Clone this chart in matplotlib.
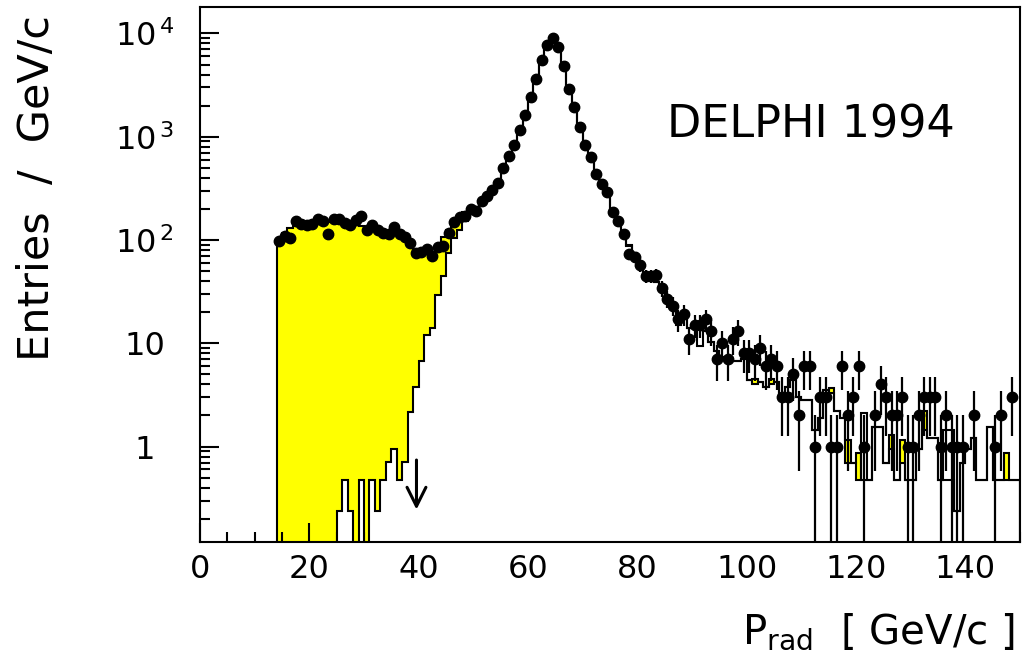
import numpy as np
import matplotlib
matplotlib.use("Agg")
from matplotlib import pyplot as plt
from matplotlib.ticker import MultipleLocator, LogLocator, NullFormatter, FuncFormatter

# 1 GeV/c bins from 14 to 150
bin_lo = 14
bin_hi = 150

# data entries per bin (bins 14..149)
data_counts = [
    98, 110, 105, 152, 142, 139, 143, 160, 152, 115,
    161, 161, 147, 141, 157, 169, 126, 140, 126, 118,
    115, 133, 115, 108, 93, 74, 76, 81, 70, 85,
    88, 118, 149, 168, 172, 200, 190, 238, 264, 308,
    356, 499, 650, 840, 1150, 1610, 2430, 3590, 5510, 7800,
    8930, 7400, 4840, 2880, 1920, 1230, 830, 630, 437, 350,
    290, 188, 153, 115, 73, 68, 57, 45, 45, 46,
    34, 27, 23, 17, 19, 11, 15, 15, 17, 13,
    7, 10, 7, 11, 13, 8, 8, 7, 9, 6,
    7, 6, 3, 3, 5, 2, 6, 6, 1, 3,
    3, 1, 1, 6, 2, 3, 6, 1, 0, 2,
    4, 3, 2, 2, 3, 1, 1, 2, 3, 3,
    3, 1, 2, 1, 1, 1, 0, 2, 0, 0,
    0, 1, 2, 0, 3, 0,
]

# total simulation (yellow)
mc_total = [
    100, 118, 130, 137, 142, 144, 146, 149, 149, 149,
    148, 146, 143, 141, 139, 136, 133, 130, 126, 122,
    118, 113, 108, 101, 93, 79, 76, 74, 73, 86,
    108, 125, 151, 170, 185, 200, 210, 235, 262, 305,
    365, 480, 640, 830, 1140, 1600, 2380, 3550, 5350, 7600,
    8700, 7450, 4900, 2930, 1900, 1250, 860, 620, 455, 352,
    280, 198, 153, 114, 89, 75, 58, 42, 40, 39,
    34, 27, 23.5, 15, 17.5, 14, 14, 9.5, 13, 10.3,
    8.4, 7.3, 6.8, 6.8, 6.8, 7.0, 4.4, 4.5, 4.25, 3.8,
    4.5, 4.25, 3.05, 3.8, 4.4, 3.05, 2.85, 2.85, 1.45, 1.9,
    3.5, 3.7, 2.2, 1.9, 1.15, 0.70, 0.87, 0.47, 0.47, 1.55,
    1.55, 0.70, 1.3, 0.47, 1.15, 0.47, 0.47, 0.95, 2.2, 1.2,
    1.2, 0.47, 0.47, 0.47, 0.24, 0.70, 0.95, 1.2, 0.47, 0.47,
    1.55, 0.47, 0.47, 0.87, 0.47, 0.47,
]

# radiative signal simulation (white)
mc_signal = [
    0, 0, 0, 0, 0, 0, 0, 0, 0, 0,
    0, 0.24, 0.47, 0.24, 0, 0.47, 0, 0.47, 0.24, 0.47,
    0.71, 0.94, 0.47, 0.71, 2.15, 3.8, 6.8, 11.9, 14, 29,
    45, 74, 104, 125, 153, 180, 195, 228, 256, 300,
    365, 480, 640, 830, 1140, 1600, 2380, 3550, 5350, 7600,
    8700, 7450, 4900, 2930, 1900, 1250, 860, 620, 455, 352,
    280, 198, 153, 114, 88, 74, 57, 42, 40, 39,
    34, 27, 23.5, 19, 17.5, 14, 14, 14.5, 13, 10.3,
    8.4, 7.3, 6.8, 6.8, 6.8, 7.0, 4.4, 4.0, 4.25, 3.8,
    4.0, 4.25, 3.05, 3.8, 4.4, 3.05, 2.85, 2.85, 1.45, 1.9,
    3.5, 3.3, 2.2, 1.9, 0.70, 0.70, 0.47, 2.1, 0.47, 1.55,
    1.55, 0.70, 0.95, 0.47, 0.70, 0.47, 0.47, 0.95, 1.45, 1.2,
    1.2, 0.47, 1.45, 1.45, 0.24, 0.70, 0.95, 1.2, 0.47, 0.47,
    1.55, 0.47, 0.47, 0.47, 0.47, 0.47,
]

cut_value = 39.6  # arrow marking the cut

edges = np.arange(bin_lo, bin_hi + 1)
centers = edges[:-1] + 0.5
data = np.array(data_counts, dtype=float)
total = np.array(mc_total)
signal = np.array(mc_signal)

plt.rcParams['font.family'] = 'DejaVu Sans'

fig = plt.figure(figsize=(10.23, 6.58), dpi=100)
ax = fig.add_axes([200 / 1023, 1 - 542 / 658, 820 / 1023, 534.7 / 658])
ax.set_yscale('log', nonpositive='clip')

base = 1e-3
ax.stairs(total, edges, fill=True, color='#ffff00', baseline=base, zorder=1)
ax.stairs(signal, edges, fill=True, color='white', baseline=base, zorder=2)
ax.stairs(total, edges, color='black', lw=1.5, baseline=base, zorder=3)
ax.stairs(signal, edges, color='black', lw=1.5, baseline=base, zorder=3)

m = data > 0
ax.errorbar(centers[m], data[m], yerr=np.sqrt(data[m]), fmt='o', color='black',
            ms=7.5, elinewidth=1.6, capsize=0, zorder=5)

ax.annotate('', xy=(cut_value, 0.245), xytext=(cut_value, 0.74),
            arrowprops=dict(arrowstyle='->', lw=2.2, color='black',
                            mutation_scale=34, shrinkA=0, shrinkB=0), zorder=6)

ax.set_xlim(0, 150)
ax.set_ylim(0.119, 17900)

ax.xaxis.set_major_locator(MultipleLocator(20))
ax.xaxis.set_minor_locator(MultipleLocator(5))
ax.yaxis.set_major_locator(LogLocator(base=10))
ax.yaxis.set_minor_locator(LogLocator(base=10, subs=np.arange(2, 10)))
ax.yaxis.set_minor_formatter(NullFormatter())


def ylab(v, pos):
    k = int(round(np.log10(v)))
    if k < 0:
        return ''
    if k == 0:
        return '1'
    if k == 1:
        return '10'
    return r'$\mathregular{10^{\,%d}}$' % k


ax.yaxis.set_major_formatter(FuncFormatter(ylab))

ax.tick_params(which='both', direction='in', top=False, right=False, width=1.5)
ax.tick_params(which='major', length=13.5)
ax.tick_params(which='minor', length=7)
ax.tick_params(axis='x', labelsize=23, pad=9)
ax.tick_params(axis='y', labelsize=23, pad=40)
for lab in ax.get_yticklabels():
    lab.set_ha('center')
for s in ax.spines.values():
    s.set_linewidth(1.5)

ax.text(0.57, 0.78, 'DELPHI 1994', transform=ax.transAxes, fontsize=32,
        ha='left', va='center')

fig.text(37 / 1023, 1 - 188 / 658, 'Entries  /  GeV/c', rotation=90,
         fontsize=31, ha='center', va='center')
fig.text(1015 / 1023, 1 - 643 / 658, r'$\mathregular{P_{rad}}$  [ GeV/c ]',
         fontsize=29, ha='right', va='baseline')

fig.savefig('out.png', dpi=100)
